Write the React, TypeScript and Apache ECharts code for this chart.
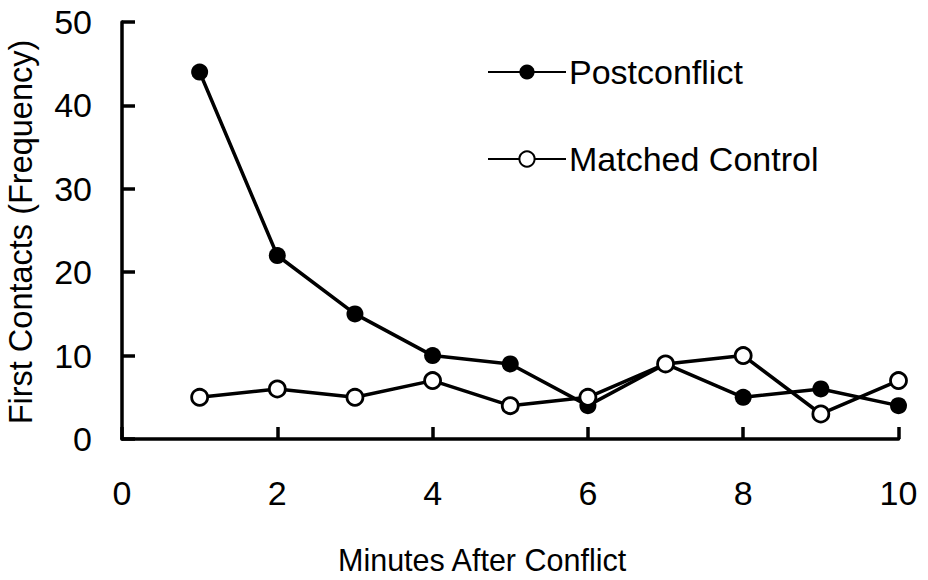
import React, { useEffect, useRef } from "react";
import * as echarts from "echarts";

const minutes = [1, 2, 3, 4, 5, 6, 7, 8, 9, 10];
const postconflict = [44, 22, 15, 10, 9, 4, 9, 5, 6, 4];
const matchedControl = [5, 6, 5, 7, 4, 5, 9, 10, 3, 7];
const seriesNames = ["Postconflict", "Matched Control"];
const xTitle = "Minutes After Conflict";
const yTitle = "First Contacts (Frequency)";

const FONT = "'Liberation Sans', Arial, Helvetica, sans-serif";

export default function App() {
  const ref = useRef<HTMLDivElement>(null);
  useEffect(() => {
    if (!ref.current) return;
    const chart = echarts.init(ref.current, undefined, { renderer: "svg" });
    const pair = (vals: number[]) => minutes.map((m, i) => [m, vals[i]]);
    chart.setOption({
      animation: false,
      backgroundColor: "#fff",
      textStyle: { fontFamily: FONT, color: "#000" },
      grid: { left: 122, right: 29.5, top: 22, bottom: 141, containLabel: false },
      legend: {
        orient: "vertical",
        left: 482,
        top: 50,
        itemWidth: 78,
        itemHeight: 19,
        itemGap: 53,
        data: seriesNames,
        textStyle: { fontFamily: FONT, fontSize: 34, color: "#000", padding: [0, 0, 0, -2] },
      },
      xAxis: {
        type: "value",
        min: 0,
        max: 10,
        interval: 2,
        splitLine: { show: false },
        axisLine: { show: true, onZero: false, lineStyle: { color: "#000", width: 3.5 } },
        axisTick: { show: true, inside: true, length: 12, lineStyle: { color: "#000", width: 3.5 } },
        axisLabel: { margin: 37, fontSize: 34, color: "#000", fontFamily: FONT },
      },
      yAxis: {
        type: "value",
        min: 0,
        max: 50,
        interval: 10,
        splitLine: { show: false },
        axisLine: { show: true, lineStyle: { color: "#000", width: 3.5 } },
        axisTick: { show: true, inside: true, length: 13, lineStyle: { color: "#000", width: 3.5 } },
        axisLabel: { margin: 30, fontSize: 34, color: "#000", fontFamily: FONT },
      },
      graphic: [
        {
          type: "text",
          left: 338,
          top: 544,
          style: { text: xTitle, fontSize: 30.5, fontFamily: FONT, fill: "#000" },
        },
        {
          type: "text",
          x: 4,
          y: 232,
          rotation: Math.PI / 2,
          style: {
            text: yTitle,
            fontSize: 32.5,
            fontFamily: FONT,
            fill: "#000",
            align: "center",
            verticalAlign: "top",
          },
        },
      ],
      series: [
        {
          name: seriesNames[0],
          type: "line",
          data: pair(postconflict),
          symbol: "circle",
          symbolSize: 17,
          lineStyle: { color: "#000", width: 3.5 },
          itemStyle: { color: "#000" },
          z: 2,
        },
        {
          name: seriesNames[1],
          type: "line",
          data: pair(matchedControl),
          symbol: "circle",
          symbolSize: 16,
          lineStyle: { color: "#000", width: 3.5 },
          itemStyle: { color: "#fff", borderColor: "#000", borderWidth: 2.8 },
          z: 3,
        },
      ],
    });
    return () => chart.dispose();
  }, []);
  return <div ref={ref} style={{ width: 928, height: 580, position: "absolute", left: 0, top: 0 }} />;
}
